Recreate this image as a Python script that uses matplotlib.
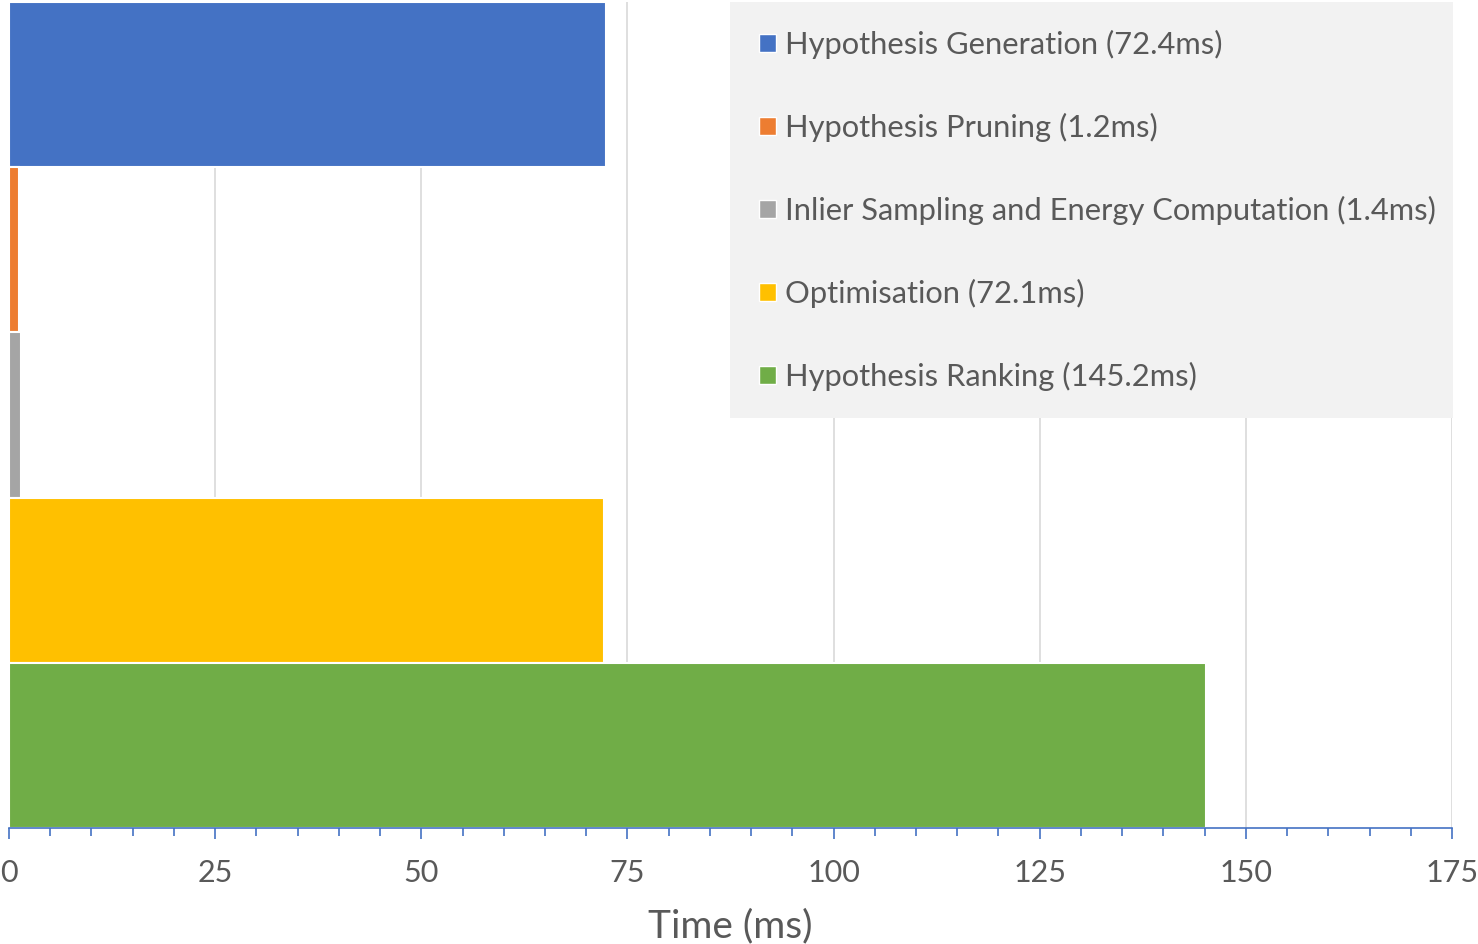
import matplotlib
matplotlib.use("Agg")
from matplotlib import pyplot as plt
from matplotlib.patches import Patch, Rectangle
from matplotlib.ticker import MultipleLocator

stages = ["Hypothesis Generation", "Hypothesis Pruning",
          "Inlier Sampling and Energy Computation", "Optimisation",
          "Hypothesis Ranking"]
times_ms = [72.4, 1.2, 1.4, 72.1, 145.2]
COLORS = ["#4472c4", "#ed7d31", "#a5a5a5", "#ffc000", "#70ad47"]

TEXT = "#595959"
plt.rcParams['font.family'] = ['Lato', 'DejaVu Sans']

fig = plt.figure(figsize=(14.78, 9.44), dpi=100)
ax = fig.add_axes([9 / 1478, 1 - 828 / 944, 1443 / 1478, 826 / 944])

ypos = list(range(len(stages)))
ax.barh(ypos, times_ms, height=1.0, color=COLORS,
        edgecolor="white", linewidth=1.5, zorder=2)

ax.set_xlim(0, 175)
ax.set_ylim(len(stages) - 0.5, -0.5)
ax.xaxis.set_major_locator(MultipleLocator(25))
ax.xaxis.set_minor_locator(MultipleLocator(5))
ax.set_yticks([])
ax.grid(axis="x", which="major", color="#d9d9d9", lw=1.2, zorder=0)
ax.set_axisbelow(True)

for s in ["left", "right", "top"]:
    ax.spines[s].set_visible(False)
ax.spines["bottom"].set_color("#4472c4")
ax.spines["bottom"].set_linewidth(1.2)
ax.tick_params(axis="x", which="major", direction="out", length=8,
               width=1.2, color="#4472c4", labelsize=22, labelcolor=TEXT, pad=14)
ax.tick_params(axis="x", which="minor", direction="out", length=6,
               width=1.2, color="#4472c4")
ax.set_xlabel("Time (ms)", fontsize=28, color=TEXT, labelpad=16)

# legend panel
fig.patches.append(Rectangle((730 / 1478, 1 - 418 / 944), 723 / 1478, 416 / 944,
                             transform=fig.transFigure, facecolor="#f2f2f2",
                             edgecolor="none", zorder=3))

handles = [Patch(facecolor=c, edgecolor="white", lw=1) for c in COLORS]
labels = [f"{s} ({t}ms)" for s, t in zip(stages, times_ms)]
leg = fig.legend(handles, labels, loc="upper left",
                 bbox_to_anchor=(734 / 1478, 1 - 5 / 944),
                 frameon=False, fontsize=22.2, labelcolor=TEXT,
                 handlelength=0.55, handleheight=0.55, handletextpad=0.3,
                 labelspacing=1.75, borderpad=0.3)
leg.set_zorder(5)

fig.savefig("out.png", dpi=100)
